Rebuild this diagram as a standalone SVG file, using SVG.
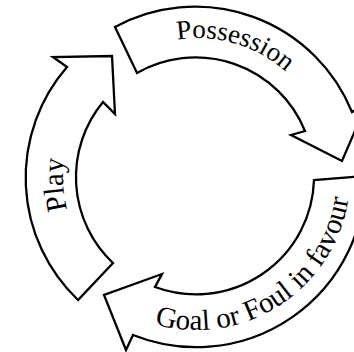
<svg xmlns="http://www.w3.org/2000/svg" width="354" height="352" viewBox="0 0 354 352">
<style>
.arrow{fill:#fff;stroke:#000;stroke-width:2.3;stroke-linejoin:miter}
.lbl{font-family:"Liberation Serif","Times New Roman",serif;fill:#000}
</style>
<defs>
<path id="pPos" d="M 88.3 96.3 A 132 132 0 0 1 329.7 167.8"/>
<path id="pGoal" d="M 103.3 299 A 154 154 0 0 0 346.1 141.4"/>
<path id="pPlay" d="M 136.4 296 A 135 135 0 0 1 121.8 64.4"/>
</defs>
<rect width="354" height="352" fill="#fff"/>
<g id="play">
<path class="arrow" d="M 78 300 A 169 169 0 0 1 67 67 L 53 57 L 112 56 L 115 114 L 103 102 A 118 118 0 0 0 113 263 Z"/>
<text class="lbl" font-size="29"><textPath href="#pPlay" startOffset="50%" text-anchor="middle">Play</textPath></text>
</g>
<g id="possession">
<path class="arrow" d="M 115 27 A 169 169 0 0 1 352 112 L 367 103 L 342 161 L 291 135 L 305 131 A 118 118 0 0 0 137 73 Z"/>
<text class="lbl" font-size="27"><textPath href="#pPos" startOffset="50%" text-anchor="middle">Possession</textPath></text>
</g>
<g id="goal">
<path class="arrow" d="M 365 176 A 169 169 0 0 1 133 335 L 126 350 L 104 295 L 162 274 L 155 287 A 118 118 0 0 0 314 180 Z"/>
<text class="lbl" font-size="29"><textPath href="#pGoal" startOffset="50%" text-anchor="middle">Goal or Foul in favour</textPath></text>
</g>
<g id="connectors"/>
</svg>
